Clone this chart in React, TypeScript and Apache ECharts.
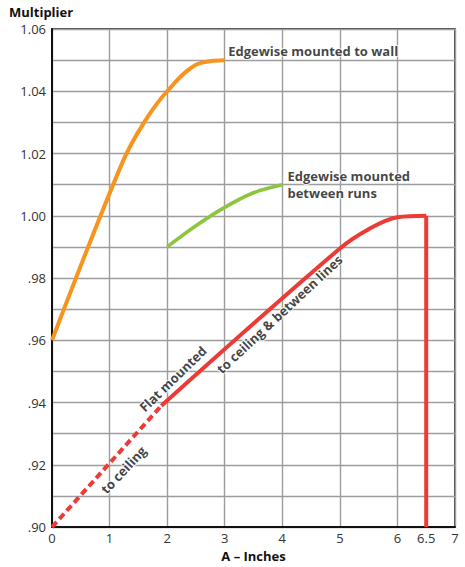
import React, { useEffect, useRef } from "react";
import * as echarts from "echarts";

// Series values [A (inches), multiplier]
const wallCurve: [number, number][] = [
  [0, 0.96], [1.22, 1.017], [1.6, 1.03], [2, 1.04], [2.5, 1.0485], [3, 1.05],
];
const runsCurve: [number, number][] = [
  [2, 0.99], [2.5, 0.9968], [3, 1.0027], [3.5, 1.0074], [4, 1.01],
];
const flatDashed: [number, number][] = [
  [0, 0.9], [1.9, 0.939],
];
const flatSolid: [number, number][] = [
  [1.9, 0.939], [5, 0.9895], [5.5, 0.9957], [6, 0.9995], [6.5, 1.0],
];
const flatDrop: [number, number][] = [
  [6.5, 1.0], [6.5, 0.9],
];

// Tick labels
const xTickValues = [0, 1, 2, 3, 4, 5, 6, 6.5, 7];

// Annotation labels
const plainLabels: [number, number, string][] = [
  [3.06, 1.0528, "Edgewise mounted to wall"],
  [4.09, 1.0102, "Edgewise mounted\nbetween runs"],
];
const rotatedLabels: [number, number, string, number][] = [
  [2.1, 0.9476, "Flat mounted", 44],
  [3.95, 0.9684, "to ceiling & between lines", 43],
  [1.24, 0.9184, "to ceiling", 47],
];

const FONT = "'Open Sans', 'Noto Sans', sans-serif";
const ORANGE = "#f7941e";
const GREEN = "#8cc63f";
const RED = "#ee3a35";

export default function App() {
  const ref = useRef<HTMLDivElement>(null);
  useEffect(() => {
    if (!ref.current) return;
    const chart = echarts.init(ref.current, null, { renderer: "svg" });
    const labelStyle = {
      color: "#111",
      fontFamily: FONT,
      fontSize: 13,
      fontWeight: "bold",
    };
    chart.setOption({
      animation: false,
      backgroundColor: "#fff",
      title: {
        text: "Multiplier",
        left: 9,
        top: 5,
        padding: 0,
        textStyle: { fontFamily: FONT, fontSize: 13, fontWeight: "bold", color: "#111" },
      },
      grid: {
        left: 52,
        right: 10,
        top: 29,
        bottom: 33,
        show: true,
        borderColor: "#111",
        borderWidth: 1.5,
      },
      xAxis: {
        type: "value",
        min: 0,
        max: 7,
        interval: 1,
        name: "A – Inches",
        nameLocation: "middle",
        nameGap: 18,
        nameTextStyle: { fontFamily: FONT, fontSize: 13, fontWeight: "bold", color: "#111" },
        axisLine: { show: true, onZero: false, lineStyle: { color: "#111", width: 2 } },
        axisTick: { show: false },
        axisLabel: {
          customValues: xTickValues,
          margin: 4,
          fontFamily: FONT,
          fontSize: 13,
          color: "#333",
          formatter: (v: number) => String(v),
        },
        splitLine: { show: true, lineStyle: { color: "#9d9d9d", width: 1.4 } },
      },
      yAxis: {
        type: "value",
        min: 0.9,
        max: 1.06,
        interval: 0.01,
        axisLine: { show: true, onZero: false, lineStyle: { color: "#111", width: 2 } },
        axisTick: { show: false },
        axisLabel: {
          margin: 6,
          fontFamily: FONT,
          fontSize: 13,
          color: "#333",
          formatter: (v: number) => {
            const c = Math.round(v * 100);
            if (c % 2 !== 0) return "";
            return c < 100 ? "." + c : (c / 100).toFixed(2);
          },
        },
        splitLine: { show: true, lineStyle: { color: "#9d9d9d", width: 1.4 } },
      },
      series: [
        {
          type: "line",
          data: wallCurve,
          smooth: 0.35,
          showSymbol: false,
          lineStyle: { color: ORANGE, width: 4 },
          z: 3,
        },
        {
          type: "line",
          data: runsCurve,
          smooth: 0.35,
          showSymbol: false,
          lineStyle: { color: GREEN, width: 3.6 },
          z: 3,
        },
        {
          type: "line",
          data: flatDashed,
          showSymbol: false,
          lineStyle: { color: RED, width: 4, type: [7, 4] },
          z: 3,
        },
        {
          type: "line",
          data: flatSolid,
          smooth: 0.35,
          showSymbol: false,
          lineStyle: { color: RED, width: 4 },
          z: 3,
        },
        {
          type: "line",
          data: flatDrop,
          showSymbol: false,
          lineStyle: { color: RED, width: 4 },
          z: 3,
        },
        {
          type: "scatter",
          silent: true,
          symbolSize: 0,
          z: 5,
          data: plainLabels.map(([x, y, t]) => ({ value: [x, y], name: t })),
          label: {
            show: true,
            position: "right",
            distance: 0,
            formatter: (p: any) => p.name,
            lineHeight: 17,
            textBorderColor: "#fff",
            textBorderWidth: 2,
            ...labelStyle,
          },
        },
        {
          type: "scatter",
          silent: true,
          symbolSize: 0,
          z: 5,
          data: rotatedLabels.map(([x, y, t, r]) => ({
            value: [x, y],
            name: t,
            label: { rotate: r },
          })),
          label: {
            show: true,
            position: "inside",
            formatter: (p: any) => p.name,
            textBorderColor: "#fff",
            textBorderWidth: 2,
            ...labelStyle,
          },
        },
      ],
    });
    return () => chart.dispose();
  }, []);
  return (
    <div
      ref={ref}
      style={{ position: "fixed", left: 0, top: 0, width: 465, height: 567 }}
    />
  );
}
